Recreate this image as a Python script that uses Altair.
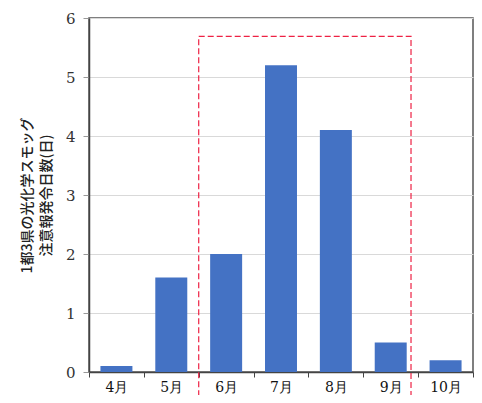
import altair as alt
import pandas as pd

months = ["4月", "5月", "6月", "7月", "8月", "9月", "10月"]
days = [0.1, 1.6, 2.0, 5.2, 4.1, 0.5, 0.2]

# highlighted period (June-September) box, in category-index units / y units
box_x = [2.0]
box_x2 = [5.87]
box_y = [5.69]
box_y2 = [-0.55]

df = pd.DataFrame({"month": months, "days": days})
box = pd.DataFrame({"x": box_x, "x2": box_x2, "y": box_y, "y2": box_y2})

yscale = alt.Scale(domain=[0, 6])
serif = "DejaVu Serif"

bars = alt.Chart(df).mark_bar(width=alt.RelativeBandSize(0.583), color="#4472C4").encode(
    x=alt.X("month:N", sort=months,
            scale=alt.Scale(paddingInner=0, paddingOuter=0),
            axis=alt.Axis(title=None, tickBand="extent", labelAngle=0,
                          labelFont=serif, labelFontSize=14,
                          labelColor="#111", labelPadding=3,
                          tickColor="#444", tickSize=5, tickWidth=1,
                          domainColor="#444", domainWidth=1.5, grid=False)),
    y=alt.Y("days:Q", scale=yscale,
            axis=alt.Axis(values=[0, 1, 2, 3, 4, 5, 6], format="d",
                          title=["1都3県の光化学スモッグ", "注意報発令日数(日)"],
                          titleFont="Noto Sans CJK JP", titleFontSize=14, titleFontWeight=500,
                          titleColor="#222", titleLineHeight=19,
                          titleX=-62, titleY=177, titleBaseline="middle", titleAngle=270,
                          labelFont=serif, labelFontSize=15, labelColor="#333",
                          labelPadding=8, tickColor="#999", tickSize=6,
                          domainColor="#444", domainWidth=1.5,
                          gridColor="#d9d9d9", gridWidth=1)),
)

rect = alt.Chart(box).mark_rect(fill="transparent", stroke="#ee2244", strokeWidth=1.2,
                                strokeDash=[6, 3]).encode(
    x=alt.X("x:Q", scale=alt.Scale(domain=[0, 7], nice=False, zero=False), axis=None),
    x2="x2:Q",
    y=alt.Y("y:Q", scale=yscale),
    y2="y2:Q",
)

chart = alt.layer(bars, rect).resolve_scale(x="independent").properties(
    width=384, height=354,
    autosize=alt.AutoSizeParams(type="none"),
    padding={"left": 81, "top": 10, "right": 1, "bottom": 23},
).configure_view(stroke="#555", strokeWidth=1.5)

chart.save("out.html", embed_options={"renderer": "svg", "actions": False})
